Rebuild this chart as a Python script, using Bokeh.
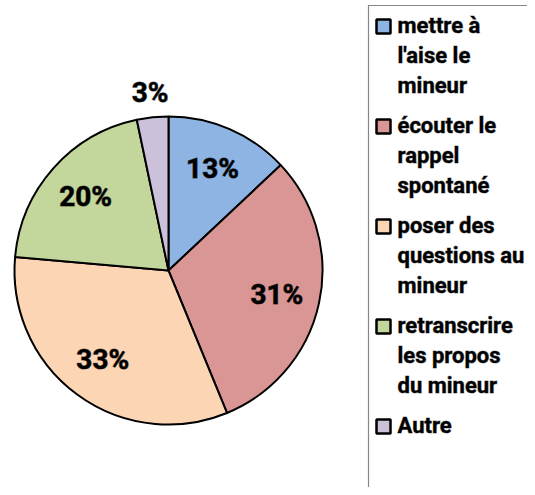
import math
from bokeh.plotting import figure
from bokeh.models import Range1d, ColumnDataSource
from bokeh.core.properties import value
from bokeh.embed import file_html
from bokeh.resources import INLINE

# ---- data ----
categories = [
    "mettre à\nl'aise le\nmineur",
    "écouter le\nrappel\nspontané",
    "poser des\nquestions au\nmineur",
    "retranscrire\nles propos\ndu mineur",
    "Autre",
]
shares = [13.0, 30.8, 32.6, 20.3, 3.3]
colors = ["#8EB4E3", "#D99694", "#FCD5B5", "#C3D69B", "#CCC1DA"]

FONT = "Roboto"

p = figure(width=527, height=487, output_backend="svg", toolbar_location=None,
           x_range=Range1d(0, 527), y_range=Range1d(-487, 0),
           min_border=0, tools="")
p.axis.visible = False
p.grid.visible = False
p.outline_line_color = None
p.background_fill_color = "white"

# ---- pie ----
cx, cy, R = 168, -270, 154
total = sum(shares)
starts, ends, lx, ly, ltxt = [], [], [], [], []
cum = 0.0
for v in shares:
    a0 = math.pi / 2 - 2 * math.pi * cum / total
    cum += v
    a1 = math.pi / 2 - 2 * math.pi * cum / total
    starts.append(a0)
    ends.append(a1)
    mid = (a0 + a1) / 2
    rr = R * (1.16 if v / total < 0.05 else 0.72)
    lx.append(cx + rr * math.cos(mid))
    ly.append(cy + rr * math.sin(mid))
    ltxt.append(f"{round(100 * v / total)}%")

src = ColumnDataSource(dict(start=starts, end=ends, color=colors))
p.wedge(x=cx, y=cy, radius=R, start_angle="start", end_angle="end",
        direction="clock", fill_color="color", line_color="black",
        line_width=2, source=src)
p.text(x=lx, y=ly, text=ltxt, text_font=value(FONT), text_font_style="bold",
       text_font_size="28px", text_align="center", text_baseline="middle",
       text_color="black", text_outline_color="rgba(0,0,0,0.6)")

# ---- legend ----
p.line(x=[368, 368, 540], y=[-500, -5, -5], line_color="#868686", line_width=1.2)
sx, sy, tx, tys = [], [], [], []
lines_txt = []
for i, cat in enumerate(categories):
    y0 = -(25 + 100 * i)
    sx.append(383)
    sy.append(y0 - 1)
    for j, ln in enumerate(cat.split("\n")):
        lines_txt.append(ln)
        tx.append(397)
        tys.append(y0 - 30 * j)
p.rect(x=sx, y=sy, width=14, height=14, fill_color=colors, line_color="black",
       line_width=2.5)
p.text(x=tx, y=tys, text=lines_txt, text_font=value(FONT), text_font_style="bold",
       text_font_size="22px", text_align="left", text_baseline="middle",
       text_color="black", text_outline_color="rgba(0,0,0,0.45)")

open("out.html", "w").write(file_html(p, INLINE))
